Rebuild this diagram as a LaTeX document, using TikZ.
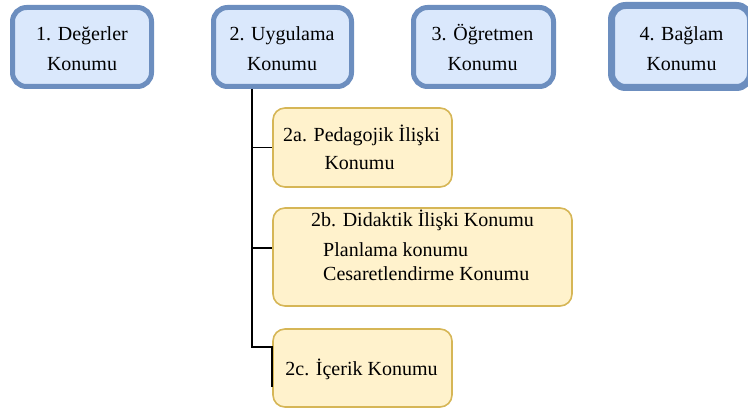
\documentclass[tikz,border=0pt]{standalone}
\usepackage{fontspec}
\setmainfont{Liberation Serif}
\definecolor{bluefill}{HTML}{DAE8FC}
\definecolor{blueline}{HTML}{6C8EBF}
\definecolor{yellowfill}{HTML}{FFF2CC}
\definecolor{yellowline}{HTML}{D6B656}
\begin{document}
\begin{tikzpicture}[x=1pt, y=-1pt, line cap=round,
                    topbox/.style={draw=blueline, fill=bluefill, line width=5pt,
                        rounded corners=14pt, minimum width=139pt, minimum height=79pt,
                        inner sep=0pt},
                    subbox/.style={draw=yellowline, fill=yellowfill, line width=1.6pt,
                        rounded corners=12pt, minimum height=79pt, inner sep=0pt},
                    txt/.style={font=\fontsize{20}{30}\selectfont, inner sep=0pt, anchor=base},
                    conn/.style={line width=1.8pt, line cap=butt}
                   ]
\useasboundingbox (0,0) rectangle (748,409);

% top row
\node[topbox] (b1) at (82,47) {};
\node[topbox, minimum width=138pt] (b2) at (282.5,47) {};
\node[topbox, minimum width=140pt] (b3) at (483.5,47) {};
\node[topbox, line width=7pt, minimum height=82pt] (b4) at (681,46.5) {};

\node[txt] (t1) at (82,41) {1. Değerler};
\node[txt] (k1) at (82,71) {Konumu};
\node[txt] (t2) at (282,41) {2. Uygulama};
\node[txt] (k2) at (282,71) {Konumu};
\node[txt] (t3) at (482.5,41) {3. Öğretmen};
\node[txt] (k3) at (482.5,71) {Konumu};
\node[txt] (t4) at (681.5,41) {4. Bağlam};
\node[txt] (k4) at (681.5,71) {Konumu};

% sub boxes
\node[subbox, minimum width=179pt] (b2a) at (362.5,147.5) {};
\node[subbox, minimum width=299pt, minimum height=98pt] (b2b) at (422.5,257) {};
\node[subbox, minimum width=179pt, minimum height=78pt] (b2c) at (362.5,368) {};

\node[txt] (t2a) at (361.5,142) {2a. Pedagojik İlişki};
\node[txt] (k2a) at (359.5,170) {Konumu};
\node[txt] (t2b) at (422.5,227) {2b. Didaktik İlişki Konumu};
\node[txt, anchor=base west] (p2b) at (323,257) {Planlama konumu};
\node[txt, anchor=base west] (c2b) at (323,280) {Cesaretlendirme Konumu};
\node[txt] (t2c) at (361.5,375) {2c. İçerik Konumu};

% connectors
\coordinate (trunk) at (252,89);
\coordinate (elbow) at (272,347);
\coordinate (tail) at (272,387);
\draw[conn] (trunk) |- (b2a.west);
\draw[conn] (trunk) |- ([yshift=9pt]b2b.west);
\draw[conn] (trunk) |- (elbow) -- (tail);
\end{tikzpicture}
\end{document}
